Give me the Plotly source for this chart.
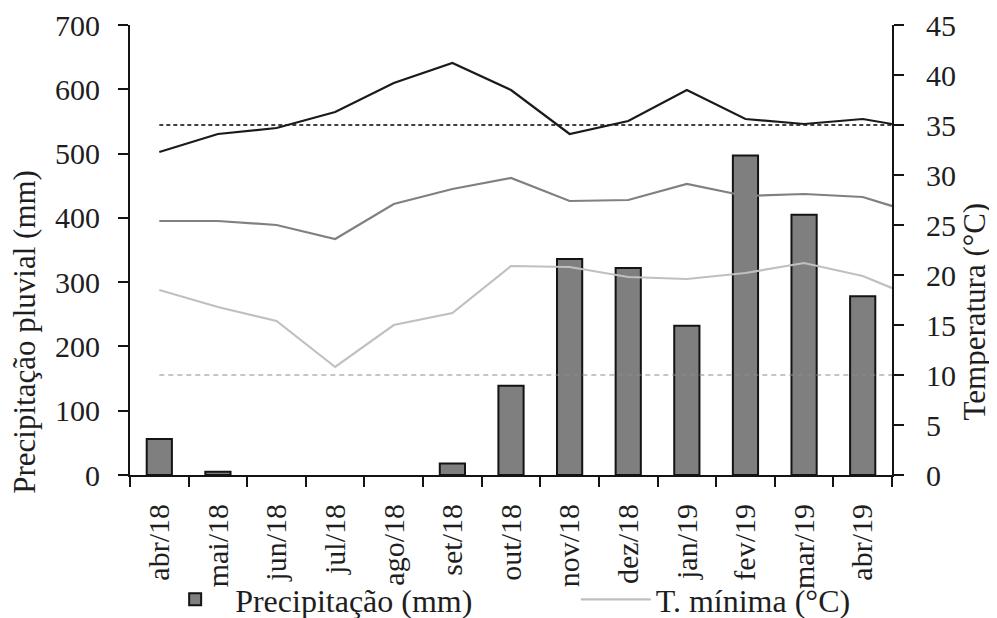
import plotly.graph_objects as go

# ---------------- data ----------------
meses = ["abr/18", "mai/18", "jun/18", "jul/18", "ago/18", "set/18", "out/18",
         "nov/18", "dez/18", "jan/19", "fev/19", "mar/19", "abr/19"]
precipitacao = [56, 5, 0, 0, 0, 18, 139, 336, 322, 232, 497, 405, 278]

# temperature series (13 months + the following month, the line runs on to the right axis)
t_maxima = [32.3, 34.1, 34.7, 36.3, 39.2, 41.2, 38.5, 34.1, 35.4, 38.5, 35.6, 35.1, 35.6, 34.6]
t_media = [25.4, 25.4, 25.0, 23.6, 27.1, 28.6, 29.7, 27.4, 27.5, 29.1, 27.9, 28.1, 27.8, 26.0]
t_minima = [18.5, 16.8, 15.4, 10.8, 15.0, 16.2, 20.9, 20.8, 19.8, 19.6, 20.2, 21.2, 19.9, 17.5]
limite_sup = [35, 35, 35, 35, 35, 35, 35, 35, 35, 35, 35, 35, 35, 35]
limite_inf = [10, 10, 10, 10, 10, 10, 10, 10, 10, 10, 10, 10, 10, 10]
posicao = list(range(len(t_maxima)))

y1_ticks = [0, 100, 200, 300, 400, 500, 600, 700]
y2_ticks = [0, 5, 10, 15, 20, 25, 30, 35, 40, 45]

FONT = "Liberation Serif, Times New Roman, serif"
TXT = "#1e1e1e"

fig = go.Figure()

fig.add_trace(go.Bar(
    x=meses, y=precipitacao, name="Precipitação (mm)",
    marker=dict(color="#7f7f7f",
                line=dict(color="#141414", width=[2 if v > 0 else 0 for v in precipitacao])),
    width=0.43, xaxis="x", yaxis="y", showlegend=True, legend="legend",
))

fig.add_trace(go.Scatter(x=posicao, y=limite_sup, mode="lines", xaxis="x2", yaxis="y2",
                         line=dict(color="#000000", width=1.3, dash="4px,3px"),
                         showlegend=False, name="35 °C"))
fig.add_trace(go.Scatter(x=posicao, y=limite_inf, mode="lines", xaxis="x2", yaxis="y2",
                         line=dict(color="#8c8c8c", width=1.2, dash="5px,4px"),
                         showlegend=False, name="10 °C"))
fig.add_trace(go.Scatter(x=posicao, y=t_maxima, mode="lines", xaxis="x2", yaxis="y2",
                         line=dict(color="#1a1a1a", width=2.2),
                         showlegend=False, name="T. máxima (°C)"))
fig.add_trace(go.Scatter(x=posicao, y=t_media, mode="lines", xaxis="x2", yaxis="y2",
                         line=dict(color="#808080", width=2.2),
                         showlegend=False, name="T. média (°C)"))
fig.add_trace(go.Scatter(x=posicao, y=t_minima, mode="lines", xaxis="x2", yaxis="y2",
                         line=dict(color="#c0c0c0", width=2.2),
                         showlegend=True, name="T. mínima (°C)", legend="legend2"))

axis_common = dict(showgrid=False, zeroline=False, showline=True, linecolor="#141414",
                   linewidth=2, ticks="outside", ticklen=10, tickwidth=2, tickcolor="#141414",
                   tickfont=dict(family=FONT, size=30, color=TXT))

legend_common = dict(orientation="h", xanchor="left", y=-0.3378, yanchor="bottom",
                     itemwidth=70, font=dict(family=FONT, size=32, color=TXT),
                     bgcolor="rgba(0,0,0,0)")

fig.update_layout(
    width=989, height=610,
    margin=dict(l=122, r=105, t=17, b=143, autoexpand=False),
    paper_bgcolor="white", plot_bgcolor="white",
    font=dict(family=FONT, size=30, color=TXT),
    xaxis=dict(type="category", categoryorder="array", categoryarray=meses,
               tickson="boundaries", tickangle=-90, ticklabelstandoff=15,
               range=[-0.5, 12.5], **axis_common),
    xaxis2=dict(overlaying="x", range=[-0.5, 12.5], visible=False,
                showgrid=False, zeroline=False),
    yaxis=dict(range=[0, 700], tickvals=y1_ticks, ticklabelstandoff=12, **axis_common),
    yaxis2=dict(overlaying="y", side="right", anchor="x2", range=[0, 45],
                tickvals=y2_ticks, ticklabelstandoff=16, **axis_common),
    legend=dict(x=0.033, **legend_common),
    legend2=dict(x=0.585, **legend_common),
    annotations=[
        dict(text="Precipitação pluvial (mm)", xref="paper", yref="paper",
             x=-0.138, y=0.318, textangle=-90, showarrow=False,
             font=dict(family=FONT, size=31, color=TXT), xanchor="center", yanchor="middle"),
        dict(text="Temperatura (°C)", xref="paper", yref="paper",
             x=1.108, y=0.364, textangle=-90, showarrow=False,
             font=dict(family=FONT, size=31, color=TXT), xanchor="center", yanchor="middle"),
    ],
)

fig.write_html("out.html")
